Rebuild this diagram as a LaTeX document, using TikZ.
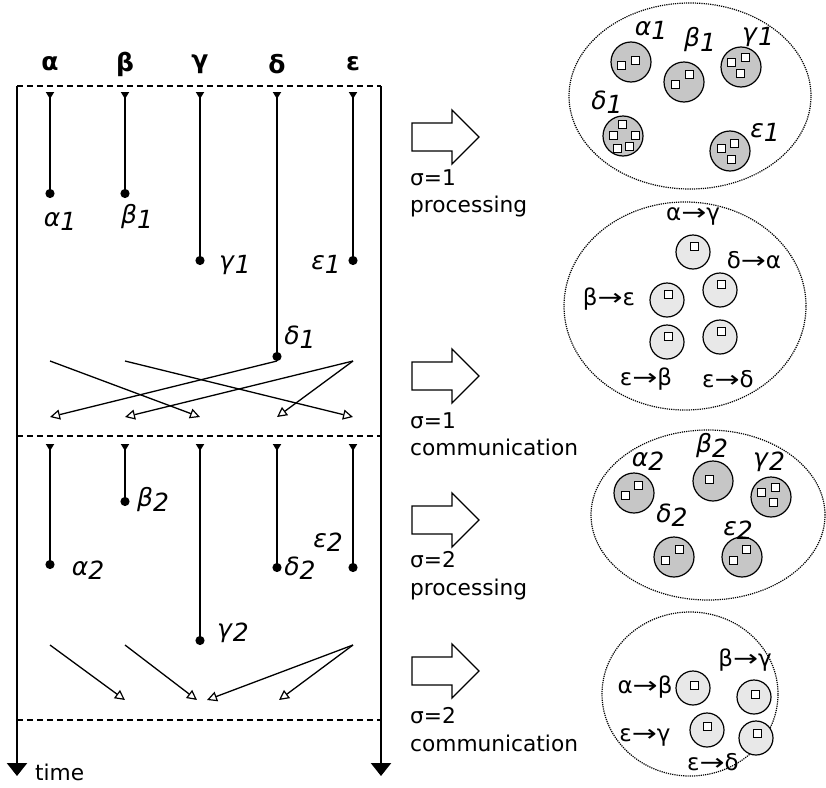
\documentclass[tikz,border=0pt]{standalone}
\usepackage{fontspec}
\setmainfont{DejaVu Sans}
\usetikzlibrary{arrows.meta}
\newcommand\ilab[2]{\textit{#1}\raisebox{-0.3ex}{\textit{#2}}}
\newcommand\lto{\scalebox{1.3}[1]{→}}
\newcommand\blockarrow[2]{\draw[blk] (#2) ++(0,-14) -- ++(40,0) -- ++(0,-13) -- ++(27,27) -- ++(-27,27) -- ++(0,-13) -- ++(-40,0) -- cycle;}
\tikzset{
  axisline/.style={line width=2.3pt,-{Triangle[length=13pt,width=20pt]}},
  dashline/.style={line width=1.6pt,dash pattern=on 6pt off 4pt},
  seg/.style={line width=2.1pt,{Triangle[reversed,length=7pt,width=8pt]}-{Circle[length=9pt]}},
  msg/.style={line width=1.3pt,-{Triangle[open,length=10pt,width=10pt,line width=1.2pt]}},
  head/.style={font=\fontsize{25}{27}\selectfont\bfseries},
  lab/.style={font=\fontsize{25}{27}\selectfont, inner sep=0pt},
  arr/.style={font=\fontsize{23}{25}\selectfont, inner sep=0pt},
  txt/.style={font=\fontsize{21.7}{24}\selectfont, anchor=base west, inner sep=0pt},
  blk/.style={line width=1.3pt, fill=white},
  oval/.style={line width=1.2pt, dash pattern=on 1.2pt off 1pt},
  dcirc/.style={circle, draw, line width=1.2pt, fill=gray!45, minimum size=40pt, inner sep=0pt},
  lcirc/.style={circle, draw, line width=1.2pt, fill=gray!18, minimum size=34pt, inner sep=0pt},
  sq/.style={rectangle, draw, line width=1pt, fill=white, minimum size=8pt, inner sep=0pt},
}
\begin{document}
\begin{tikzpicture}[x=1pt,y=-1pt]
\useasboundingbox (0,0) rectangle (826,787);
% frame
\coordinate (LT) at (17,86); \coordinate (LB) at (17,776);
\coordinate (RT) at (381,86); \coordinate (RB) at (381,776);
\coordinate (ML) at (17,436); \coordinate (MR) at (381,436);
\coordinate (BL) at (17,720); \coordinate (BR) at (381,720);
\draw[axisline] (LT) -- (LB);
\draw[axisline] (RT) -- (RB);
\draw[dashline] (LT) -- (RT);
\draw[dashline] (ML) -- (MR);
\draw[dashline] (BL) -- (BR);
\node[txt] (time) at (35,780) {time};
% headers
\node[head] (ha) at (50,64) {α};
\node[head] (hb) at (125,64) {β};
\node[head] (hc) at (200,64) {γ};
\node[head] (hd) at (277,64) {δ};
\node[head] (he) at (353,64) {ε};
% phase 1
\coordinate (a0) at (50,92);  \coordinate (a1) at (50,198);
\coordinate (b0) at (125,92); \coordinate (b1) at (125,198);
\coordinate (c0) at (200,92); \coordinate (c1) at (200,265);
\coordinate (d0) at (277,92); \coordinate (d1) at (277,361);
\coordinate (e0) at (353,92); \coordinate (e1) at (353,265);
\draw[seg] (a0) -- (a1);
\draw[seg] (b0) -- (b1);
\draw[seg] (c0) -- (c1);
\draw[seg] (d0) -- (d1);
\draw[seg] (e0) -- (e1);
\node[lab] (la1) at (60,221) {\ilab{α}{1}};
\node[lab] (lb1) at (137,217) {\ilab{β}{1}};
\node[lab] (lc1) at (235,265) {\ilab{γ}{1}};
\node[lab] (le1) at (326,264) {\ilab{ε}{1}};
\node[lab] (ld1) at (300,337) {\ilab{δ}{1}};
% communication 1
\coordinate (sa) at (50,361); \coordinate (sb) at (125,361); \coordinate (se) at (353,361);
\coordinate (ta) at (50,417); \coordinate (tb) at (125,417); \coordinate (tc) at (200,417);
\coordinate (td) at (277,417); \coordinate (te) at (353,417);
\draw[msg] (sa) -- (tc);
\draw[msg] (sb) -- (te);
\draw[msg] (d1) -- (ta);
\draw[msg] (se) -- (tb);
\draw[msg] (se) -- (td);
% phase 2
\coordinate (a2s) at (50,444);  \coordinate (a2) at (50,569);
\coordinate (b2s) at (125,444); \coordinate (b2) at (125,506);
\coordinate (c2s) at (200,444); \coordinate (c2) at (200,645);
\coordinate (d2s) at (277,444); \coordinate (d2) at (277,572);
\coordinate (e2s) at (353,444); \coordinate (e2) at (353,572);
\draw[seg] (a2s) -- (a2);
\draw[seg] (b2s) -- (b2);
\draw[seg] (c2s) -- (c2);
\draw[seg] (d2s) -- (d2);
\draw[seg] (e2s) -- (e2);
\node[lab] (la2) at (88,570) {\ilab{α}{2}};
\node[lab] (lb2) at (153,500) {\ilab{β}{2}};
\node[lab] (lc2) at (233,633) {\ilab{γ}{2}};
\node[lab] (ld2) at (300,568) {\ilab{δ}{2}};
\node[lab] (le2) at (328,542) {\ilab{ε}{2}};
% communication 2
\coordinate (ua) at (50,645); \coordinate (ub) at (125,645); \coordinate (ue) at (353,645);
\coordinate (vb) at (125,700); \coordinate (vc1) at (197,700); \coordinate (vc2) at (207,700);
\coordinate (vd) at (279,700);
\draw[msg] (ua) -- (vb);
\draw[msg] (ub) -- (vc1);
\draw[msg] (ue) -- (vc2);
\draw[msg] (ue) -- (vd);
% block arrows and captions
\coordinate (A1) at (412,137); \coordinate (A2) at (412,376);
\coordinate (A3) at (412,520); \coordinate (A4) at (412,671);
\blockarrow{1}{A1}
\blockarrow{2}{A2}
\blockarrow{3}{A3}
\blockarrow{4}{A4}
\node[txt] (s1) at (410,185) {σ=1};
\node[txt] (p1) at (410,212) {processing};
\node[txt] (s2) at (410,428) {σ=1};
\node[txt] (m1) at (410,455) {communication};
\node[txt] (s3) at (410,567) {σ=2};
\node[txt] (p2) at (410,595) {processing};
\node[txt] (s4) at (410,723) {σ=2};
\node[txt] (m2) at (410,751) {communication};
% ellipse 1
\draw[oval] (690,96) ellipse [x radius=121pt, y radius=93pt];
\node[dcirc] (P1a) at (631,62) {};
\node[sq] at ([shift={(-10,3)}]P1a) {}; \node[sq] at ([shift={(4,-2)}]P1a) {};
\node[dcirc] (P1b) at (684,82) {};
\node[sq] at ([shift={(-9,2)}]P1b) {}; \node[sq] at ([shift={(5,-8)}]P1b) {};
\node[dcirc] (P1c) at (741,67) {};
\node[sq] at ([shift={(-10,-5)}]P1c) {}; \node[sq] at ([shift={(4,-10)}]P1c) {}; \node[sq] at ([shift={(-1,6)}]P1c) {};
\node[dcirc] (P1d) at (623,136) {};
\node[sq] at ([shift={(-1,-12)}]P1d) {}; \node[sq] at ([shift={(-10,-1)}]P1d) {}; \node[sq] at ([shift={(12,-1)}]P1d) {};
\node[sq] at ([shift={(-6,12)}]P1d) {}; \node[sq] at ([shift={(6,10)}]P1d) {};
\node[dcirc] (P1e) at (730,151) {};
\node[sq] at ([shift={(-9,-3)}]P1e) {}; \node[sq] at ([shift={(4,-8)}]P1e) {}; \node[sq] at ([shift={(1,8)}]P1e) {};
\node[lab] (q1a) at (651,30) {\ilab{α}{1}};
\node[lab] (q1b) at (700,40) {\ilab{β}{1}};
\node[lab] (q1c) at (758,37) {\ilab{γ}{1}};
\node[lab] (q1d) at (607,102) {\ilab{δ}{1}};
\node[lab] (q1e) at (765,132) {\ilab{ε}{1}};
% ellipse 2
\draw[oval] (685,306) ellipse [x radius=121pt, y radius=104pt];
\node[lcirc] (C1a) at (693,252) {}; \node[sq] at ([shift={(1,-6)}]C1a) {};
\node[lcirc] (C1b) at (720,290) {}; \node[sq] at ([shift={(1,-6)}]C1b) {};
\node[lcirc] (C1c) at (667,300) {}; \node[sq] at ([shift={(1,-6)}]C1c) {};
\node[lcirc] (C1d) at (667,342) {}; \node[sq] at ([shift={(1,-6)}]C1d) {};
\node[lcirc] (C1e) at (720,337) {}; \node[sq] at ([shift={(1,-6)}]C1e) {};
\node[arr] (r1) at (693,216) {α\lto γ};
\node[arr] (r2) at (754,260) {δ\lto α};
\node[arr] (r3) at (609,299) {β\lto ε};
\node[arr] (r4) at (646,379) {ε\lto β};
\node[arr] (r5) at (728,379) {ε\lto δ};
% ellipse 3
\draw[oval] (708,515) ellipse [x radius=117pt, y radius=85pt];
\node[dcirc] (P2a) at (634,493) {};
\node[sq] at ([shift={(-9,2)}]P2a) {}; \node[sq] at ([shift={(4,-8)}]P2a) {};
\node[dcirc] (P2b) at (713,481) {};
\node[sq] at ([shift={(-4,-2)}]P2b) {};
\node[dcirc] (P2c) at (771,497) {};
\node[sq] at ([shift={(-10,-5)}]P2c) {}; \node[sq] at ([shift={(4,-10)}]P2c) {}; \node[sq] at ([shift={(2,5)}]P2c) {};
\node[dcirc] (P2d) at (674,557) {};
\node[sq] at ([shift={(-9,3)}]P2d) {}; \node[sq] at ([shift={(5,-8)}]P2d) {};
\node[dcirc] (P2e) at (742,557) {};
\node[sq] at ([shift={(-9,3)}]P2e) {}; \node[sq] at ([shift={(4,-8)}]P2e) {};
\node[lab] (q2a) at (648,461) {\ilab{α}{2}};
\node[lab] (q2b) at (712,446) {\ilab{β}{2}};
\node[lab] (q2c) at (769,462) {\ilab{γ}{2}};
\node[lab] (q2d) at (672,515) {\ilab{δ}{2}};
\node[lab] (q2e) at (738,530) {\ilab{ε}{2}};
% ellipse 4
\draw[oval] (690,694) ellipse [x radius=88pt, y radius=82pt];
\node[lcirc] (C2a) at (693,688) {}; \node[sq] at ([shift={(1,-3)}]C2a) {};
\node[lcirc] (C2b) at (754,697) {}; \node[sq] at ([shift={(1,-3)}]C2b) {};
\node[lcirc] (C2c) at (707,730) {}; \node[sq] at ([shift={(0,-4)}]C2c) {};
\node[lcirc] (C2d) at (756,738) {}; \node[sq] at ([shift={(1,-5)}]C2d) {};
\node[arr] (w1) at (745,660) {β\lto γ};
\node[arr] (w2) at (645,687) {α\lto β};
\node[arr] (w3) at (645,737) {ε\lto γ};
\node[arr] (w4) at (713,762) {ε\lto δ};
\end{tikzpicture}
\end{document}
